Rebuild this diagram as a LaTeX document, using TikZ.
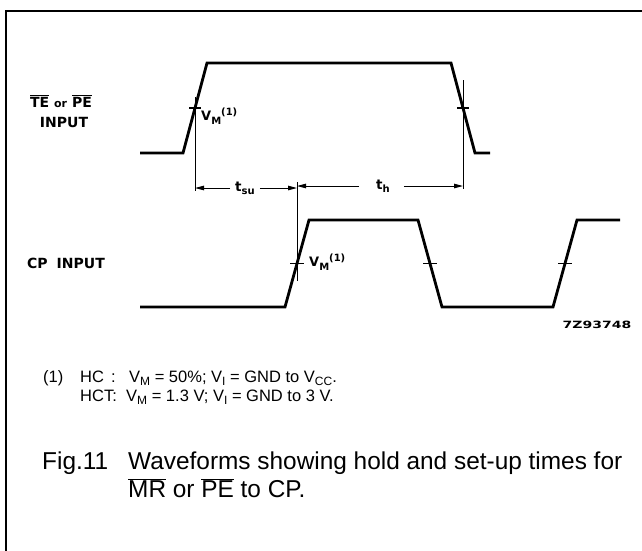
\documentclass[tikz,border=0pt]{standalone}
\usepackage{fontspec}
\setmainfont{Liberation Sans}
\newfontfamily\labfont{DejaVu Sans}
\usetikzlibrary{arrows.meta}
\newcommand\ovl[1]{\ensuremath{\overline{\hbox{#1}}}}
\newcommand\fsub[1]{\raisebox{-0.4ex}{\fontsize{12}{12}\selectfont #1}}
\newcommand\lsub[1]{\raisebox{-0.45ex}{\fontsize{10}{10}\selectfont #1}}
\newcommand\lsup[1]{\raisebox{0.75ex}{\fontsize{10}{10}\selectfont #1}}
\begin{document}
\begin{tikzpicture}[x=1pt,y=-1pt,
  wave/.style={line width=2.8pt},
  thinline/.style={line width=1pt},
  tickmark/.style={line width=1.8pt},
  dimarrow/.style={line width=1pt,-{Triangle[length=9pt,width=4.5pt]}},
  lab/.style={font=\labfont\bfseries\fontsize{14}{16}\selectfont, inner sep=0pt},
  vmlab/.style={font=\labfont\bfseries\fontsize{13}{13}\selectfont, inner sep=0pt, anchor=west},
  dimlab/.style={font=\labfont\bfseries\fontsize{13.5}{13.5}\selectfont, inner sep=0pt},
  foot/.style={font=\fontsize{16.5}{16.5}\selectfont, inner sep=0pt, anchor=base west},
  captext/.style={font=\fontsize{24.4}{24.4}\selectfont, inner sep=0pt, anchor=base west}]
\useasboundingbox (0,0) rectangle (642,550);
% frame
\draw[line width=2pt] (5.5,552) -- (5.5,10.5) -- (644,10.5);

% top waveform
\coordinate (a0) at (140,153);
\coordinate (a1) at (183,153);
\coordinate (a2) at (207,63);
\coordinate (a3) at (451,63);
\coordinate (a4) at (475,153);
\coordinate (a5) at (490,153);
\draw[wave] (a0) -- (a1) -- (a2) -- (a3) -- (a4) -- (a5);
\coordinate (ca) at (195,108);
\coordinate (cb) at (463,108);
\draw[tickmark] ([xshift=-6pt]ca) -- ([xshift=6pt]ca);
\draw[tickmark] ([xshift=-6pt]cb) -- ([xshift=6pt]cb);

% bottom waveform
\coordinate (b0) at (140,307);
\coordinate (b1) at (285,307);
\coordinate (b2) at (309,220);
\coordinate (b3) at (418,220);
\coordinate (b4) at (442,307);
\coordinate (b5) at (553,307);
\coordinate (b6) at (577,220);
\coordinate (b7) at (620,220);
\draw[wave] (b0) -- (b1) -- (b2) -- (b3) -- (b4) -- (b5) -- (b6) -- (b7);
\coordinate (cc) at (297,263.5);
\coordinate (cd) at (430,263.5);
\coordinate (ce) at (565,263.5);
\foreach \p in {cc,cd,ce}
  \draw[tickmark] ([xshift=-7pt]\p) -- ([xshift=7pt]\p);

% reference lines
\coordinate (la) at (195,97);
\coordinate (lb) at (195,191);
\coordinate (ra) at (463,80);
\coordinate (rb) at (463,189);
\coordinate (ma) at (297,182);
\coordinate (mb) at (297,281);
\draw[thinline] (la) -- (lb);
\draw[thinline] (ra) -- (rb);
\draw[thinline] (ma) -- (mb);

% dimension arrows
\node[dimlab] (tsu) at (245,188) {t\lsub{su}};
\node[dimlab] (th) at (383,186) {t\lsub{h}};
\draw[dimarrow] ([xshift=-5pt]tsu.west) -- (tsu.west -| la);
\draw[dimarrow] ([xshift=5pt]tsu.east) -- (tsu.east -| ma);
\draw[dimarrow] ([xshift=-17pt]th.west) -- (th.west -| ma);
\draw[dimarrow] ([xshift=14pt]th.east) -- (th.east -| ra);

% V_M labels
\node[vmlab] (vm1) at (201,116) {V\lsub{M}\lsup{(1)}};
\node[vmlab] (vm2) at (309,262) {V\lsub{M}\lsup{(1)}};

% signal labels
\node[lab] (te) at (61,101) {\ovl{TE} {\fontsize{11}{11}\selectfont or} \ovl{PE}};
\node[lab] (tein) at (64,122) {INPUT};
\node[lab, anchor=west] (cp) at (27,263) {CP\hspace{9pt}INPUT};
\node[lab, font=\labfont\bfseries\fontsize{10}{10}\selectfont] (code) at (597,325) {\scalebox{1.4}[1]{7Z93748}};

% footnote
\node[foot] (f1) at (43,382) {(1)};
\node[foot] (f2) at (80,382) {HC};
\node[foot] (f3) at (111,382) {:};
\node[foot] (f4) at (129,382) {V\fsub{M} = 50\%; V\fsub{I} = GND to V\fsub{CC}.};
\node[foot] (f5) at (80,401) {HCT:};
\node[foot] (f6) at (126,401) {V\fsub{M} = 1.3 V; V\fsub{I} = GND to 3 V.};

% caption
\node[captext] (c1) at (42,469) {Fig.11};
\node[captext] (c2) at (128,469) {Waveforms showing hold and set-up times for};
\node[captext] (c3) at (128,497) {\ovl{MR} or \ovl{PE} to CP.};
\end{tikzpicture}
\end{document}
